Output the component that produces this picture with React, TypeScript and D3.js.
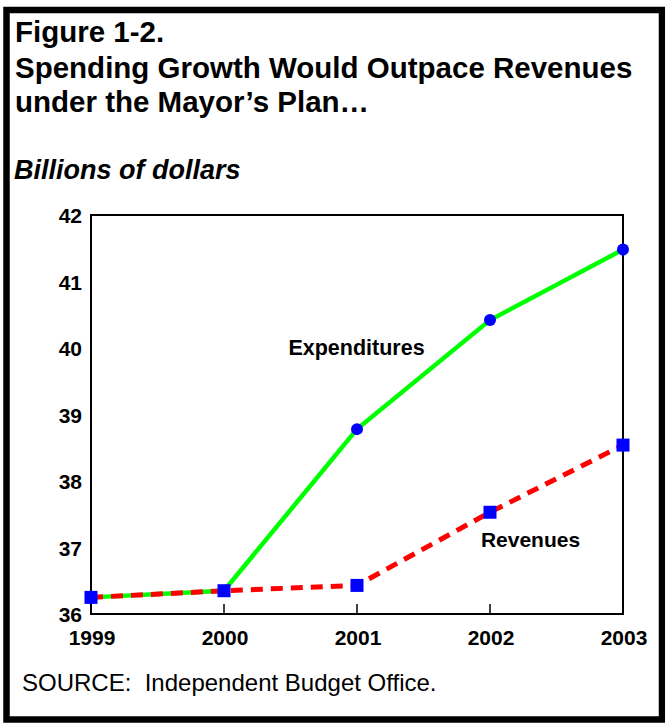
import React from "react";
import * as d3 from "d3";

const years = [1999, 2000, 2001, 2002, 2003];
const expenditures = [36.25, 36.35, 38.78, 40.42, 41.48];
const revenues = [36.25, 36.35, 36.43, 37.53, 38.54];
const yTicks = [36, 37, 38, 39, 40, 41, 42];

const W = 665;
const H = 726;
const FONT = "'Liberation Sans', Arial, Helvetica, sans-serif";

export default function App() {
  React.useEffect(() => {
    document.body.style.margin = "0";
  }, []);

  const x = d3.scaleLinear().domain([1999, 2003]).range([91, 623]);
  const y = d3.scaleLinear().domain([36, 42]).range([614, 215]);

  const line = d3
    .line<number>()
    .x((_, i) => x(years[i]))
    .y((d) => y(d));

  return (
    <svg width={W} height={H} style={{ display: "block", background: "#fff" }} fontFamily={FONT}>
      <rect x={6.5} y={10} width={655.5} height={709.5} fill="#fff" stroke="#000" strokeWidth={6.5} />
      <g fontWeight="bold" fontSize={29.5} fill="#000">
        <text x={15} y={42}>Figure 1-2.</text>
        <text x={15} y={78}>Spending Growth Would Outpace Revenues</text>
        <text x={15} y={112}>under the Mayor’s Plan…</text>
      </g>
      <text x={14} y={179} fontWeight="bold" fontStyle="italic" fontSize={27}>
        Billions of dollars
      </text>

      {/* plot frame */}
      <rect x={91} y={215} width={532} height={399} fill="none" stroke="#000" strokeWidth={2} />
      {years.slice(1, -1).map((yr) => (
        <line key={yr} x1={x(yr)} x2={x(yr)} y1={614} y2={604} stroke="#000" strokeWidth={1.5} />
      ))}
      <g fontWeight="bold" fontSize={21} textAnchor="end">
        {yTicks.map((t) => (
          <text key={t} x={82} y={y(t) + 8}>
            {t}
          </text>
        ))}
      </g>
      <g fontWeight="bold" fontSize={21} textAnchor="middle">
        {years.map((yr) => (
          <text key={yr} x={x(yr) + 1} y={645}>
            {yr}
          </text>
        ))}
      </g>

      <path d={line(expenditures) || ""} fill="none" stroke="#00ff00" strokeWidth={4.5} />
      <path
        d={line(revenues) || ""}
        fill="none"
        stroke="#ff0000"
        strokeWidth={5}
        strokeDasharray="12 8"
      />
      {expenditures.map((v, i) => (
        <circle key={i} cx={x(years[i])} cy={y(v)} r={6} fill="#0000ff" />
      ))}
      {revenues.map((v, i) => (
        <rect key={i} x={x(years[i]) - 6.5} y={y(v) - 6.5} width={13} height={13} fill="#0000ff" />
      ))}

      <text x={356.5} y={355} fontWeight="bold" fontSize={21.5} textAnchor="middle">
        Expenditures
      </text>
      <text x={530.5} y={547} fontWeight="bold" fontSize={21} textAnchor="middle">
        Revenues
      </text>

      <text x={22} y={691} fontSize={24}>
        SOURCE:{"\u00a0\u00a0"}Independent Budget Office.
      </text>
    </svg>
  );
}
